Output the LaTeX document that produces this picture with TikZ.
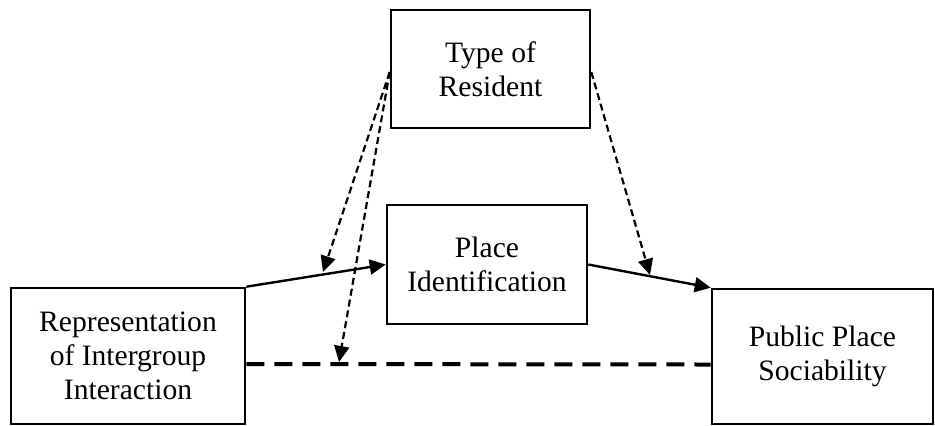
\documentclass[tikz,border=0pt]{standalone}
\usepackage{fontspec}
\setmainfont{Liberation Serif}
\usetikzlibrary{arrows.meta, positioning}
\tikzset{box/.style={draw, line width=1.3pt, align=center, inner sep=0pt, font=\fontsize{14.8}{17}\selectfont}}
\tikzset{moderator/.style={->, line width=1.1pt, dash pattern=on 3.5pt off 2pt}}

\begin{document}
\begin{tikzpicture}[x=0.5pt, y=-0.5pt, >={Triangle[length=8pt,width=7.5pt]}]
    \useasboundingbox (0,0) rectangle (935,425);
    % boxes
    \node[box, minimum width=99.5pt, minimum height=59pt] (type) at (490.5,69) {Type of\\Resident};
    \node[box, minimum width=100pt, minimum height=59.5pt] (place) at (487,264.5) {Place\\Identification};
    \node[box, minimum width=117pt, minimum height=68pt] (rep) at (128,356) {Representation\\of Intergroup\\Interaction};
    \node[box, minimum width=110.5pt, minimum height=67.5pt] (pub) at (822.5,356.5) {Public Place\\Sociability};

    \coordinate (a-path) at (323,272);
    \coordinate (c-path) at (339,362);
    \coordinate (b-path) at (650,275);

    % paths
    \draw[->, line width=1.2pt] (rep.north east) -- (place.west);
    \draw[->, line width=1.2pt] (place.east) -- (pub.north west);
    \draw[line width=2pt, dash pattern=on 9pt off 5pt] ([yshift=-4pt]rep.east) -- ([yshift=-4pt]pub.west);

    % moderation
    \draw[moderator] ([yshift=-1.5pt]type.west) -- (a-path);
    \draw[moderator] ([yshift=-1.5pt]type.west) -- (c-path);
    \draw[moderator] ([yshift=-1.5pt]type.east) -- (b-path);
\end{tikzpicture}
\end{document}
